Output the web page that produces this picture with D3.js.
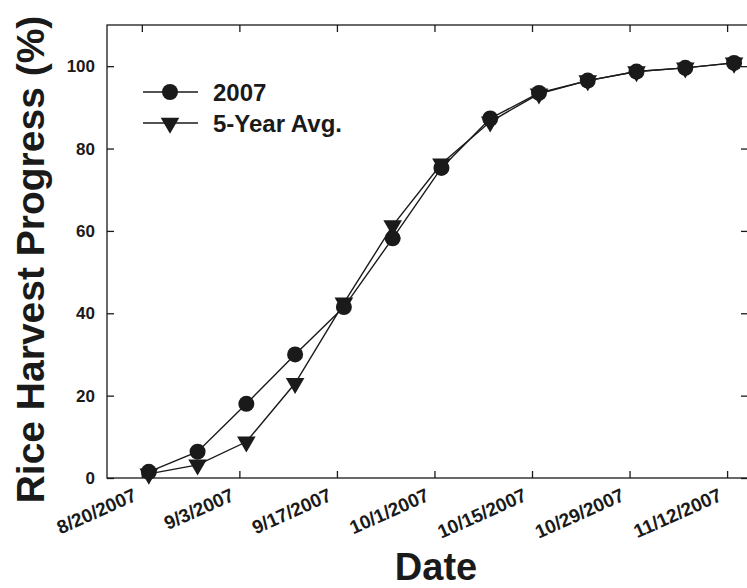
<!DOCTYPE html>
<html>
<head>
<meta charset="utf-8">
<script src="https://cdn.jsdelivr.net/npm/d3@7"></script>
<style>
  html, body { margin: 0; padding: 0; background: #fff; }
  svg text { font-family: "Liberation Sans", Arial, sans-serif; font-weight: bold; fill: #1a1a1a; }
</style>
</head>
<body>
<svg id="chart" width="747" height="588"></svg>
<script>
// ---- data ----
const dates = ["2007-08-21","2007-08-28","2007-09-04","2007-09-11","2007-09-18","2007-09-25",
               "2007-10-02","2007-10-09","2007-10-16","2007-10-23","2007-10-30","2007-11-06","2007-11-13"];
const progress2007 = [1.5, 6.4, 18, 30, 41.5, 58.2, 75.3, 87.3, 93.5, 96.5, 98.7, 99.6, 100.8];
const avg5yr       = [1.0, 3.2, 8.8, 23, 42.5, 61.3, 76.3, 86.5, 93.3, 96.5, 98.7, 99.6, 100.8];
const xTickDates = ["2007-08-20","2007-09-03","2007-09-17","2007-10-01","2007-10-15","2007-10-29","2007-11-12"];
const xTickLabels = ["8/20/2007","9/3/2007","9/17/2007","10/1/2007","10/15/2007","10/29/2007","11/12/2007"];
const yTicks = [0, 20, 40, 60, 80, 100];
const seriesNames = ["2007", "5-Year Avg."];

const parse = d3.timeParse("%Y-%m-%d");
const svg = d3.select("#chart");
const pL = 107, pR = 748, pT = 25, pB = 478;
const ink = "#1a1a1a";

const x = d3.scaleTime().domain([parse("2007-08-15"), parse("2007-11-15")]).range([pL, pR]);
const y = d3.scaleLinear().domain([0, 110]).range([pB, pT]);

// frame
svg.append("rect").attr("x", pL).attr("y", pT).attr("width", pR - pL).attr("height", pB - pT)
  .attr("fill", "none").attr("stroke", ink).attr("stroke-width", 1.3);

const tickDates = xTickDates.map(parse);
const gb = svg.append("g").attr("transform", `translate(0,${pB})`)
  .call(d3.axisBottom(x).tickValues(tickDates).tickSize(-7).tickFormat(""));
const gt = svg.append("g").attr("transform", `translate(0,${pT})`)
  .call(d3.axisTop(x).tickValues(tickDates).tickSize(-7).tickFormat(""));
const gl = svg.append("g").attr("transform", `translate(${pL},0)`)
  .call(d3.axisLeft(y).tickValues(yTicks).tickSize(-7).tickFormat(""));
const gr = svg.append("g").attr("transform", `translate(${pR},0)`)
  .call(d3.axisRight(y).tickValues(yTicks).tickSize(-7).tickFormat(""));
[gb, gt, gl, gr].forEach(g => {
  g.select(".domain").remove();
  g.selectAll("line").attr("stroke", ink).attr("stroke-width", 1.3);
});

// y tick labels
svg.append("g").selectAll("text").data(yTicks).join("text")
  .attr("x", 95).attr("y", d => y(d)).attr("dy", "0.36em")
  .attr("text-anchor", "end").attr("font-size", 17).text(d => d);

// x tick labels (rotated)
svg.append("g").selectAll("text").data(tickDates).join("text")
  .attr("text-anchor", "end").attr("font-size", 19)
  .attr("transform", d => `translate(${x(d) - 4},${pB + 22}) rotate(-24)`)
  .text((d, i) => xTickLabels[i]);

// axis titles
svg.append("text").attr("transform", `translate(44,${(pT + pB) / 2 + 8}) rotate(-90)`)
  .attr("text-anchor", "middle").attr("font-size", 39).text("Rice Harvest Progress (%)");
svg.append("text").attr("x", 436).attr("y", 580).attr("text-anchor", "middle")
  .attr("font-size", 38).text("Date");

// series
const pts2007 = dates.map((d, i) => ({ date: parse(d), v: progress2007[i] }));
const ptsAvg = dates.map((d, i) => ({ date: parse(d), v: avg5yr[i] }));
const line = d3.line().x(d => x(d.date)).y(d => y(d.v));

svg.append("path").datum(ptsAvg).attr("d", line).attr("fill", "none").attr("stroke", ink).attr("stroke-width", 1.4);
svg.append("path").datum(pts2007).attr("d", line).attr("fill", "none").attr("stroke", ink).attr("stroke-width", 1.4);

const tri = d3.symbol().type(d3.symbolTriangle).size(150);
svg.append("g").selectAll("path").data(ptsAvg).join("path")
  .attr("d", tri).attr("fill", ink)
  .attr("transform", d => `translate(${x(d.date)},${y(d.v)}) rotate(180)`);
svg.append("g").selectAll("circle").data(pts2007).join("circle")
  .attr("cx", d => x(d.date)).attr("cy", d => y(d.v)).attr("r", 8).attr("fill", ink);

// legend
const lg = svg.append("g");
const legY = [92, 123];
legY.forEach((ly, i) => {
  lg.append("line").attr("x1", 143).attr("x2", 198).attr("y1", ly).attr("y2", ly)
    .attr("stroke", ink).attr("stroke-width", 1.4);
  if (i === 0) {
    lg.append("circle").attr("cx", 170).attr("cy", ly).attr("r", 8).attr("fill", ink);
  } else {
    lg.append("path").attr("d", tri).attr("fill", ink)
      .attr("transform", `translate(170,${ly}) rotate(180)`);
  }
  lg.append("text").attr("x", 213).attr("y", ly).attr("dy", "0.36em")
    .attr("font-size", 24).text(seriesNames[i]);
});
</script>
</body>
</html>
